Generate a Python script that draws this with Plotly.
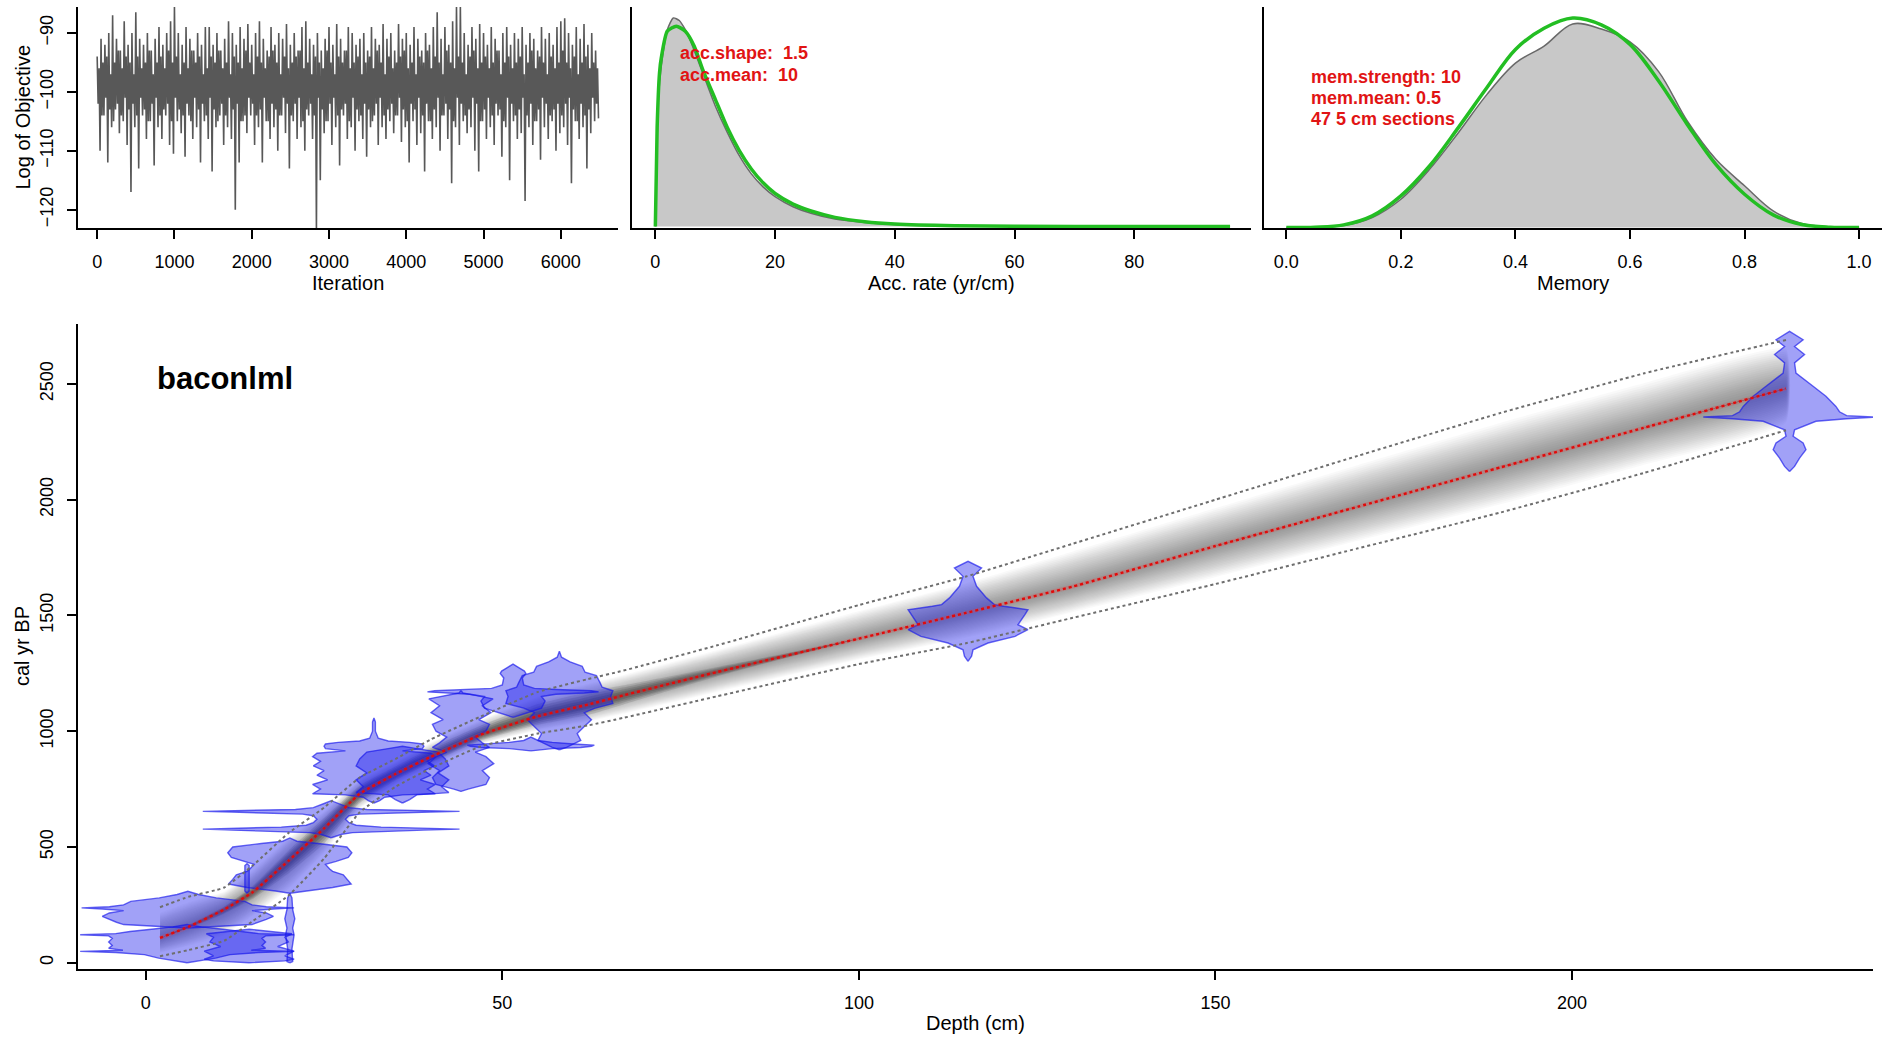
import numpy as np
import plotly.graph_objects as go

W, H = 1883, 1040

# ---------------- data ----------------
trace_step = 12.5
trace_high = [-94,-91,-92,-90,-87,-91,-93,-88,-92,-90, -86.5,-91,-92,-90,-93,-91,-89,-92,-90,-88,
              -85.5,-90,-92,-89,-91,-93,-90,-92,-89,-89, -92,-90,-93,-91,-88,-90,-92,-89,-91,-88.5,
              -92,-90,-88,-91,-93,-89,-92,-90,-91,-88.5, -92,-90,-93,-89,-88,-91,-92,-90,-93,-91,
              -89,-92,-88.5,-91,-93,-89,-90,-92,-91,-90, -93,-89,-91,-92,-88.5,-91,-90,-93,-88.5,-91,
              -90,-92,-89,-91,-93,-90,-92,-89,-86.5,-91, -89,-92,-88,-85.5,-85.5,-90,-92,-89,-91,-88.5,
              -90,-92,-89,-91,-93,-90,-89,-92,-90,-91, -89,-92,-90,-91,-93,-89,-91,-90,-92,-89,
              -88,-87.5,-90,-92,-89,-91,-88.5,-92,-90,-93]
trace_low = [-110,-104,-112,-106,-103,-107,-105,-109,-117,-106, -113,-104,-108,-105,-112.5,-106,-108,-104,-109,-110.5,
             -105,-107,-111,-104,-108,-106,-112,-105,-108,-113.5, -106,-104,-109,-106,-108,-120,-112,-105,-107,-104,
             -109,-106,-112,-105,-108,-106,-110,-104,-107,-113, -105,-108,-106,-110,-104,-108,-123.5,-115,-107,-105,
             -109,-106,-112.5,-104,-108,-106,-110,-105,-108,-111, -106,-104,-109,-106,-108,-105,-107,-104,-108.5,-106,
             -112,-105,-109,-107,-113.5,-105,-108,-106,-110,-104, -108,-115.5,-106,-109,-105,-107,-106,-110,-113.5,-105,
             -108,-106,-109,-104,-111,-106,-115,-105,-108,-107, -118.5,-106,-109,-105,-111.5,-106,-108,-105,-110,-107,
             -106,-109,-115.5,-105,-108,-106,-113,-107,-105,-104.5]
trace_core_hi = [-96,-95,-94,-97,-95,-93,-96,-94,-95,-97, -94,-96,-95,-93,-97,-95,-94,-96,-93,-95,
                 -94,-97,-95,-96,-93,-95,-94,-97,-96,-94, -95,-93,-96,-95,-97,-94,-95,-96,-93,-95,
                 -97,-94,-95,-96,-94,-93,-95,-97,-94,-96, -95,-94,-93,-96,-95,-97,-94,-95,-96,-93,
                 -95,-97,-94,-95,-93,-96,-95,-94,-97,-95, -94,-96,-93,-95,-97,-94,-96,-95,-94,-93,
                 -96,-95,-97,-94,-95,-93,-96,-94,-95,-97, -93,-95,-96,-94,-95,-97,-94,-93,-96,-95,
                 -94,-96,-95,-93,-97,-95,-94,-96,-95,-94, -97,-95,-93,-96,-94,-95,-97,-94,-96,-95,
                 -93,-95,-96,-94,-97,-95,-94,-96,-95,-96]
trace_core_lo = [-102,-104,-101,-103,-105,-102,-104,-101,-103,-102, -104,-101,-103,-105,-102,-101,-104,-103,-102,-105,
                 -101,-103,-104,-102,-105,-101,-103,-102,-104,-101, -103,-105,-102,-104,-101,-103,-102,-105,-104,-101,
                 -102,-104,-103,-101,-105,-102,-103,-104,-101,-102, -104,-102,-101,-105,-103,-102,-104,-101,-103,-105,
                 -102,-101,-104,-103,-102,-105,-101,-103,-104,-102, -103,-105,-102,-101,-104,-103,-102,-104,-101,-103,
                 -105,-102,-103,-101,-104,-102,-105,-103,-101,-104, -102,-103,-105,-101,-102,-104,-103,-101,-102,-105,
                 -103,-101,-104,-102,-103,-105,-101,-102,-104,-103, -101,-104,-102,-105,-103,-101,-102,-104,-103,-102,
                 -104,-102,-101,-103,-105,-102,-104,-103,-101,-102]

acc_x = [0,0.5,1,2,3,4,5,6,8,10,12,14,16,18,20,23,26,30,35,40,50,60,80,96]
acc_post = [0,0.0443,0.0558,0.0684,0.0725,0.0716,0.0684,0.0638,0.0529,0.0420,0.0328,0.0247,0.0184,
            0.0138,0.0104,0.0069,0.0046,0.0026,0.0014,0.0007,0.0002,0.0001,0.00003,0]
acc_prior_x = [0,0.3,0.7,1,2,3.5,5,6.5,8,10,12,14,16,18,20,23,26,30,35,40,50,60,80,96]
acc_prior = [0,0.0345,0.0535,0.0587,0.0679,0.0696,0.0679,0.0627,0.0541,0.0443,0.0345,0.0265,0.0201,
             0.0152,0.0115,0.0078,0.0054,0.0032,0.0017,0.0009,0.0003,0.0001,0.00003,0.00001]

mem_x = [0,0.05,0.1,0.15,0.2,0.25,0.3,0.35,0.4,0.45,0.5,0.55,0.6,0.65,0.7,0.75,0.8,0.85,0.9,0.95,1.0]
mem_post = [0,0.004,0.023,0.117,0.332,0.683,1.11,1.56,1.93,2.13,2.39,2.33,2.18,1.83,1.25,0.80,0.49,0.195,0.047,0.008,0]
mem_prior = [0,0.004,0.031,0.137,0.371,0.722,1.17,1.64,2.09,2.34,2.46,2.38,2.15,1.72,1.21,0.74,0.39,0.148,0.035,0.004,0]

model_depths = [2,6,11,15,20,25,30,35,40,47,55,62,67,80,100,115,130,150,170,190,210,230]
model_mean = [107,155,230,305,440,580,730,815,890,985,1065,1115,1155,1255,1400,1511,1625,1800,1970,2140,2310,2480]
model_upper = [240,285,325,420,560,670,800,880,965,1064,1170,1225,1262,1370,1545,1668,1810,2000,2190,2375,2545,2690]
model_lower = [28,55,95,180,290,450,650,760,840,935,990,1025,1058,1150,1290,1380,1490,1636,1790,1945,2115,2300]

date_depths = [230.5, 115.3, 5.8, 14.5, 20.2, 5.9, 14.2, 20.2, 26, 32, 36, 44.2, 51.5, 58, 54]
date_ages = [
    [2122,2144,2180,2216,2245,2274,2302,2339,2350,2357,2363,2380,2403,2447,2490,2547,2591,2627,2662,2691,2727],
    [1302,1324,1352,1381,1410,1439,1460,1482,1505,1525,1540,1547,1576,1626,1669,1705,1734],
    [0,10,20,35,44,49,54,62,75,90,105,116,121,126,135,145,155,165],
    [0,8,15,30,50,70,90,110,125,135,145],
    [0,5,60,120,150,190,230,280,300],
    [150,165,175,187,200,215,225,232,237,242,250,265,280,295,309],
    [300,310,360,420,428],
    [300,310,325,340,360,380,395,405,425,438,455,475,500,515,525,539],
    [540,555,562,568,573,577,581,586,594,605,620,635,642,648,651,654,657,662,670,680,690,700],
    [690,700,715,725,730,750,770,790,810,830,850,870,890,905,915,925,935,945,952,958,970,1000,1040,1057],
    [690,705,725,735,760,790,820,850,880,910,925,935],
    [740,750,770,800,830,860,890,910,930,950,975,1000,1030,1050,1080,1110,1140,1155,1165,1175],
    [1060,1080,1100,1130,1150,1160,1165,1170,1175,1180,1185,1200,1230,1250,1260,1275,1290],
    [920,930,945,960,990,1020,1050,1080,1100,1120,1150,1175,1190,1210,1240,1255,1280,1300,1320,1345],
    [915,925,930,935,940,945,952,960,975],
]
date_halfwidths = [
    [0,0.7,1.4,2.3,1.9,0.5,0.7,3.7,8,12.1,8,7,6.5,5.1,3.3,0.9,0.7,2.1,0.7,1.9,0],
    [0,0.5,0.7,2.8,6.6,8.4,7.0,7.5,8.0,8.4,5,3.7,2.6,1.2,0.7,1.9,0],
    [0,2,4,6,10,15,9,11,10.5,11,10.5,11,15,10,8,5,2,0],
    [0,5,6.3,5,6.3,4,5.5,5,6,3,0],
    [0,0.4,0.3,0.6,0.4,0.7,0.4,0.3,0],
    [0,9,10,11,12,11,9,12,14.9,11,9,8,4,1.5,0],
    [0,0.3,0.3,0.3,0],
    [0,2,6,8.6,8,7.5,6,5.6,5,6.5,8.2,8.7,8,4,1,0],
    [0,1.5,3,8,13,18,13,7,3.5,2.5,2,2.5,4,9,14,18,12,5,2.5,1.5,0.8,0],
    [0,0.8,1.5,4,8.6,7.5,8.6,6.5,8,7,8.5,7.5,8.6,8,4,6.8,7,6.8,5,2,0.6,0.2,0.2,0],
    [0,1,2,6.5,5.5,6.5,5,6.5,6,5,2,0],
    [0,1,3.5,4,3,4.6,3.5,2,4,3,2,3.5,4,2.5,4.2,3,4.5,2,0.3,0],
    [0,2,4,4.5,4,6,10,12,11,6,3,1.5,1.3,1.8,1.6,0.8,0],
    [0,1,2,3,2.5,3.5,4.5,3.5,5,7.5,7.2,7.5,6,5.7,5.2,3.6,3.2,1.5,0.3,0],
    [0,3,7,8.5,8.9,6,3,1,0],
]

core_name = "baconlml"
acc_text = ["acc.shape:  1.5", "acc.mean:  10"]
mem_text = ["mem.strength: 10", "mem.mean: 0.5", "47 5 cm sections"]

# ---------------- figure ----------------
FONT = "Liberation Sans, Arial, Helvetica, sans-serif"
RED = "rgb(225,20,20)"
GREEN = "rgb(35,190,35)"


def px(v):
    return v / W


def py(v):
    return 1 - v / H


fig = go.Figure()

# panel 1: MCMC trace
trace_vals = []
for hi, clo, chi, lo in zip(trace_high, trace_core_lo, trace_core_hi, trace_low):
    trace_vals += [hi, clo, chi, lo]
iters = np.arange(len(trace_vals)) * trace_step
fig.add_trace(go.Scatter(x=iters, y=trace_vals, mode="lines",
                         line=dict(color="rgb(88,88,88)", width=1.6),
                         xaxis="x", yaxis="y", hoverinfo="skip"))

# panel 2: accumulation rate
fig.add_trace(go.Scatter(x=acc_x, y=acc_post, mode="lines", fill="tozeroy",
                         fillcolor="rgb(200,200,200)",
                         line=dict(color="rgb(105,105,105)", width=1.5, shape="spline", smoothing=0.6),
                         xaxis="x2", yaxis="y2", hoverinfo="skip"))
fig.add_trace(go.Scatter(x=acc_prior_x, y=acc_prior, mode="lines",
                         line=dict(color=GREEN, width=3.5, shape="spline", smoothing=0.6),
                         xaxis="x2", yaxis="y2", hoverinfo="skip"))

# panel 3: memory
fig.add_trace(go.Scatter(x=mem_x, y=mem_post, mode="lines", fill="tozeroy",
                         fillcolor="rgb(200,200,200)",
                         line=dict(color="rgb(105,105,105)", width=1.5, shape="spline"),
                         xaxis="x3", yaxis="y3", hoverinfo="skip"))
fig.add_trace(go.Scatter(x=mem_x, y=mem_prior, mode="lines",
                         line=dict(color=GREEN, width=3.5, shape="spline"),
                         xaxis="x3", yaxis="y3", hoverinfo="skip"))

# main: age-depth model grey shading (stacked translucent bands -> gradient)
d = np.array(model_depths, float)
mn = np.array(model_mean, float)
up = np.array(model_upper, float)
lo = np.array(model_lower, float)


def add_band(f_arr, alpha):
    top = mn + f_arr * (up - mn)
    bot = mn - f_arr * (mn - lo)
    fig.add_trace(go.Scatter(x=np.concatenate([d, d[::-1]]),
                             y=np.concatenate([top, bot[::-1]]),
                             mode="lines", fill="toself", fillcolor="rgba(0,0,0,%.3f)" % alpha,
                             line=dict(width=0, shape="spline", smoothing=0.4),
                             xaxis="x4", yaxis="y4", hoverinfo="skip"))


for f in np.linspace(0.82, 0.04, 20):
    add_band(np.full_like(d, f), 0.022)
# darker core where the model is narrow (upper section)
taper = np.interp(d, [2, 12, 25, 62, 75, 95], [0, 0.3, 1, 1, 0.5, 0])
for f in [0.5, 0.4, 0.3, 0.2, 0.1]:
    add_band(np.maximum(f * taper, 0.001), 0.10)

# calibrated dates
for dd, ages, hw in zip(date_depths, date_ages, date_halfwidths):
    a = np.array(ages, float)
    w = np.array(hw, float)
    xs = np.concatenate([dd - w, (dd + w)[::-1]])
    ys = np.concatenate([a, a[::-1]])
    fig.add_trace(go.Scatter(x=xs, y=ys, mode="lines", fill="toself",
                             fillcolor="rgba(20,20,235,0.40)",
                             line=dict(color="rgba(20,20,235,0.65)", width=1.4),
                             xaxis="x4", yaxis="y4", hoverinfo="skip"))

# dotted range + mean
for arr in (up, lo):
    fig.add_trace(go.Scatter(x=d, y=arr, mode="lines",
                             line=dict(color="rgb(110,110,110)", width=2, dash="dot", shape="spline", smoothing=0.4),
                             xaxis="x4", yaxis="y4", hoverinfo="skip"))
fig.add_trace(go.Scatter(x=d, y=mn, mode="lines",
                         line=dict(color="rgba(255,60,60,0.22)", width=4, shape="spline", smoothing=0.4),
                         xaxis="x4", yaxis="y4", hoverinfo="skip"))
fig.add_trace(go.Scatter(x=d, y=mn, mode="lines",
                         line=dict(color="rgb(225,10,10)", width=2.4, dash="dot", shape="spline", smoothing=0.4),
                         xaxis="x4", yaxis="y4", hoverinfo="skip"))

# ---------------- axes ----------------
tickfont = dict(family=FONT, size=18, color="black")
base = dict(showgrid=False, zeroline=False, showline=True, linecolor="black", linewidth=2,
            ticks="outside", ticklen=9, tickwidth=1.6, tickcolor="black", tickfont=tickfont,
            ticklabelstandoff=7, fixedrange=True)
noy = dict(showgrid=False, zeroline=False, showline=True, linecolor="black", linewidth=2,
           ticks="", showticklabels=False, fixedrange=True)

top_dom = [py(228), py(7)]
fig.update_layout(
    width=W, height=H, margin=dict(l=0, r=0, t=0, b=0),
    paper_bgcolor="white", plot_bgcolor="white", showlegend=False,
    xaxis=dict(base, domain=[px(78), px(618)], range=[-248, 6740],
               tickvals=[0, 1000, 2000, 3000, 4000, 5000, 6000], anchor="y"),
    yaxis=dict(base, domain=top_dom, range=[-123.1, -85.6],
               tickvals=[-120, -110, -100, -90], tickangle=-90, anchor="x"),
    xaxis2=dict(base, domain=[px(632), px(1251)], range=[-3.9, 99.5],
                tickvals=[0, 20, 40, 60, 80], anchor="y2"),
    yaxis2=dict(noy, domain=top_dom, range=[-0.0005, 0.0763], anchor="x2"),
    xaxis3=dict(base, domain=[px(1264), px(1882)], range=[-0.039, 1.040],
                tickvals=[0, 0.2, 0.4, 0.6, 0.8, 1.0], tickformat=".1f", anchor="y3"),
    yaxis3=dict(noy, domain=top_dom, range=[-0.006, 2.589], anchor="x3"),
    xaxis4=dict(base, domain=[px(78), px(1873)], range=[-9.5, 242.2],
                tickvals=[0, 50, 100, 150, 200], anchor="y4"),
    yaxis4=dict(base, domain=[py(969), py(324)], range=[-27, 2759],
                tickvals=[0, 500, 1000, 1500, 2000, 2500], tickangle=-90, anchor="x4"),
)

titlefont = dict(family=FONT, size=20, color="black")
ann = []


def add_text(text, x, y, font, xanchor="center", textangle=0):
    ann.append(dict(text=text, x=px(x), y=py(y), xref="paper", yref="paper",
                    showarrow=False, font=font, xanchor=xanchor, yanchor="middle",
                    textangle=textangle))


add_text("Iteration", 348, 283, titlefont)
add_text("Acc. rate (yr/cm)", 941.5, 283, titlefont)
add_text("Memory", 1573, 283, titlefont)
add_text("Log of Objective", 22, 117.5, titlefont, textangle=-90)
add_text("Depth (cm)", 975.5, 1023, titlefont)
add_text("cal yr BP", 22, 646, titlefont, textangle=-90)

redfont = dict(family=FONT, size=18, color=RED)
for i, t in enumerate(acc_text):
    add_text("<b>" + t + "</b>", 678, 53 + 22 * i, redfont, xanchor="left")
for i, t in enumerate(mem_text):
    add_text("<b>" + t + "</b>", 1309, 77 + 21 * i, redfont, xanchor="left")

add_text("<b>" + core_name + "</b>", 155, 378, dict(family=FONT, size=31, color="black"), xanchor="left")

fig.update_layout(annotations=ann)
fig.write_html("out.html", config={"displayModeBar": False},
               post_script="document.body.style.margin='0px';document.body.style.padding='0px';"
                           "document.body.style.overflow='hidden';")
